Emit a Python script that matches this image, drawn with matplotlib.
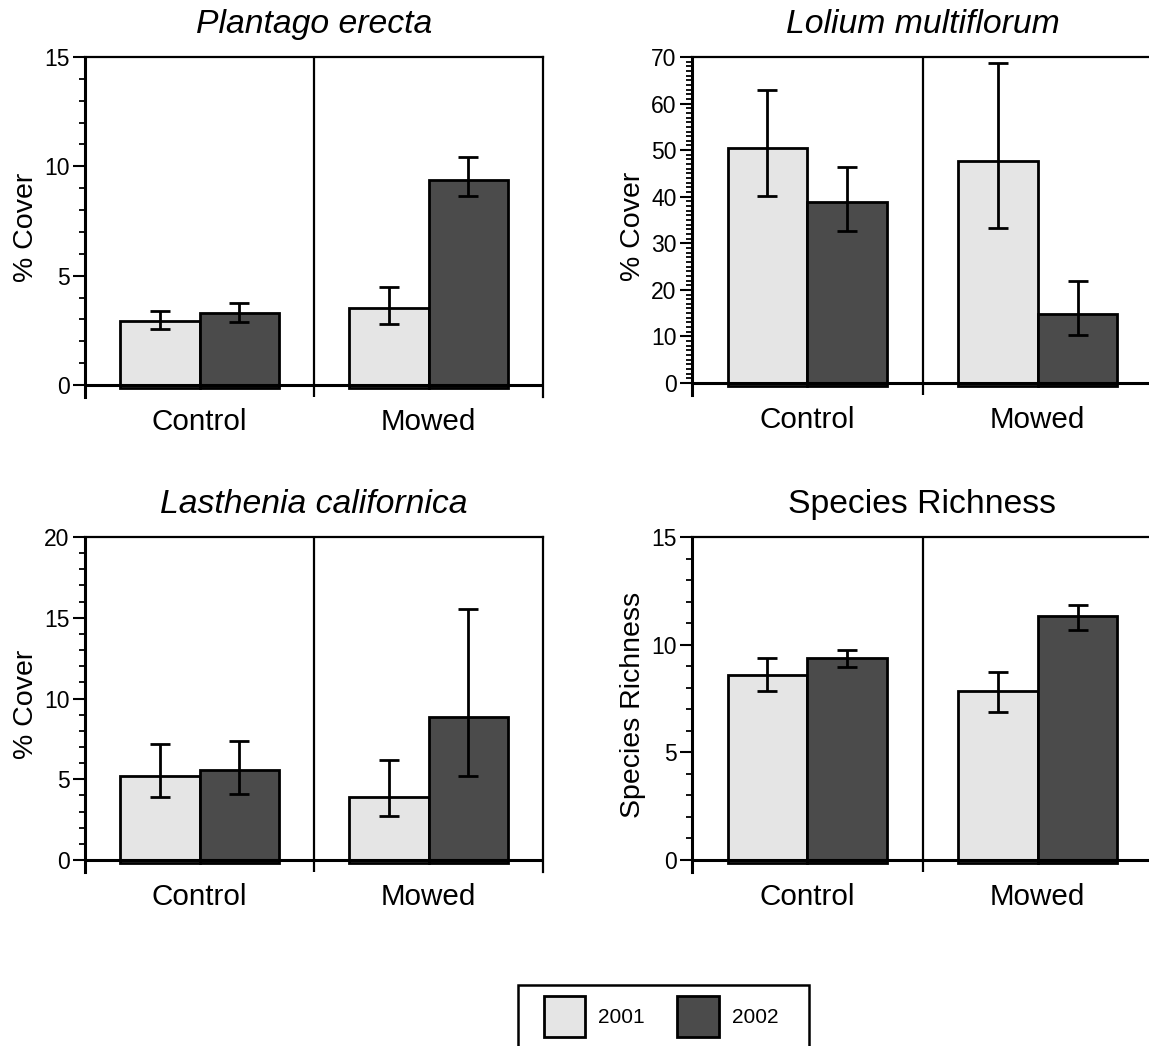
import matplotlib
matplotlib.use("Agg")
import matplotlib.pyplot as plt
from matplotlib.patches import Patch, Rectangle
import numpy as np

plt.rcParams["font.family"] = ["Liberation Sans", "DejaVu Sans"]

# ---- data -------------------------------------------------------------
treatments = ["Control", "Mowed"]
years = ["2001", "2002"]

plantago_2001 = [2.92, 3.53]
plantago_2001_lo = [2.54, 2.80]
plantago_2001_hi = [3.40, 4.48]
plantago_2002 = [3.27, 9.36]
plantago_2002_lo = [2.90, 8.63]
plantago_2002_hi = [3.77, 10.44]

lolium_2001 = [50.5, 47.6]
lolium_2001_lo = [40.2, 33.2]
lolium_2001_hi = [63.0, 68.7]
lolium_2002 = [38.9, 14.9]
lolium_2002_lo = [32.6, 10.4]
lolium_2002_hi = [46.4, 21.8]

lasthenia_2001 = [5.23, 3.92]
lasthenia_2001_lo = [3.92, 2.75]
lasthenia_2001_hi = [7.18, 6.22]
lasthenia_2002 = [5.58, 8.84]
lasthenia_2002_lo = [4.06, 5.21]
lasthenia_2002_hi = [7.36, 15.57]

richness_2001 = [8.61, 7.87]
richness_2001_lo = [7.85, 6.87]
richness_2001_hi = [9.36, 8.73]
richness_2002 = [9.36, 11.32]
richness_2002_lo = [8.98, 10.70]
richness_2002_hi = [9.73, 11.83]

# ---- style ------------------------------------------------------------
LIGHT = "#e5e5e5"
DARK = "#4b4b4b"
W, H = 1149, 1046
BAR_W = 0.345


def add_panel(rect_px, title, italic, ylabel, ytop, ystep,
              v1, lo1, hi1, v2, lo2, hi2):
    left, top, zero, right = rect_px
    plot_h = zero - top
    low_pad = 12.0
    ylow = -ytop * low_pad / plot_h
    bottom = zero + low_pad
    ax = fig.add_axes([left / W, 1 - bottom / H, (right - left) / W, (bottom - top) / H])
    ax.set_xlim(-0.5, 1.5)
    ax.set_ylim(ylow, ytop)

    x = np.arange(len(treatments))
    sink = ytop * 3.0 / plot_h  # bars start a hair under the baseline
    for vals, lo, hi, col, off in ((v1, lo1, hi1, LIGHT, -BAR_W / 2),
                                   (v2, lo2, hi2, DARK, BAR_W / 2)):
        vals = np.asarray(vals)
        ax.bar(x + off, vals + sink, bottom=-sink, width=BAR_W, color=col,
               edgecolor="black", linewidth=2.0, zorder=2)
        yerr = np.vstack([vals - np.asarray(lo), np.asarray(hi) - vals])
        ax.errorbar(x + off, vals, yerr=yerr, fmt="none", ecolor="black",
                    elinewidth=2.0, capsize=7.5, capthick=2.0, zorder=3)

    ax.axhline(0, color="black", linewidth=2.2, zorder=4)
    ax.axvline(0.5, color="black", linewidth=1.6, zorder=4)

    ax.spines["bottom"].set_visible(False)
    ax.spines["left"].set_linewidth(2.2)
    ax.spines["right"].set_linewidth(1.6)
    ax.spines["top"].set_linewidth(1.6)

    ax.set_yticks(np.arange(0, ytop + 0.01, ystep))
    ax.set_yticks(np.arange(0, ytop + 0.01, 1), minor=True)
    ax.tick_params(axis="y", which="major", length=8.5, width=1.5,
                   labelsize=16.5, pad=2.5)
    ax.tick_params(axis="y", which="minor", length=4.3, width=1.3)
    ax.set_xticks(x)
    ax.set_xticklabels(treatments)
    ax.tick_params(axis="x", length=0, labelsize=21.3, pad=8)

    ax.set_ylabel(ylabel, fontsize=20.5, labelpad=4)
    ax.set_title(title, fontsize=24.3, style="italic" if italic else "normal", pad=17)
    return ax


fig = plt.figure(figsize=(W / 100, H / 100), dpi=100)

add_panel((85, 57, 385, 543), "Plantago erecta", True, "% Cover", 15, 5,
          plantago_2001, plantago_2001_lo, plantago_2001_hi,
          plantago_2002, plantago_2002_lo, plantago_2002_hi)
add_panel((692, 57, 383, 1153), "Lolium multiflorum", True, "% Cover", 70, 10,
          lolium_2001, lolium_2001_lo, lolium_2001_hi,
          lolium_2002, lolium_2002_lo, lolium_2002_hi)
add_panel((85, 537, 860, 543), "Lasthenia californica", True, "% Cover", 20, 5,
          lasthenia_2001, lasthenia_2001_lo, lasthenia_2001_hi,
          lasthenia_2002, lasthenia_2002_lo, lasthenia_2002_hi)
add_panel((692, 537, 860, 1153), "Species Richness", False, "Species Richness", 15, 5,
          richness_2001, richness_2001_lo, richness_2001_hi,
          richness_2002, richness_2002_lo, richness_2002_hi)

# legend: entries without a frame, plus a box that runs off the bottom edge
handles = [Patch(facecolor=LIGHT, edgecolor="black", linewidth=2.0, label=years[0]),
           Patch(facecolor=DARK, edgecolor="black", linewidth=2.0, label=years[1])]
leg = fig.legend(handles=handles, loc="center", bbox_to_anchor=(661 / W, 1 - 1016.5 / H),
                 ncol=2, fontsize=15, frameon=False,
                 handlelength=2.0, handleheight=2.65, handletextpad=0.62,
                 columnspacing=1.54, borderpad=0.0)
fig.patches.append(Rectangle((518 / W, -10 / H), (809 - 518) / W, (H - 985 + 10) / H,
                             transform=fig.transFigure, facecolor="none",
                             edgecolor="black", linewidth=1.8))

fig.savefig("out.png", dpi=100, facecolor="white")
